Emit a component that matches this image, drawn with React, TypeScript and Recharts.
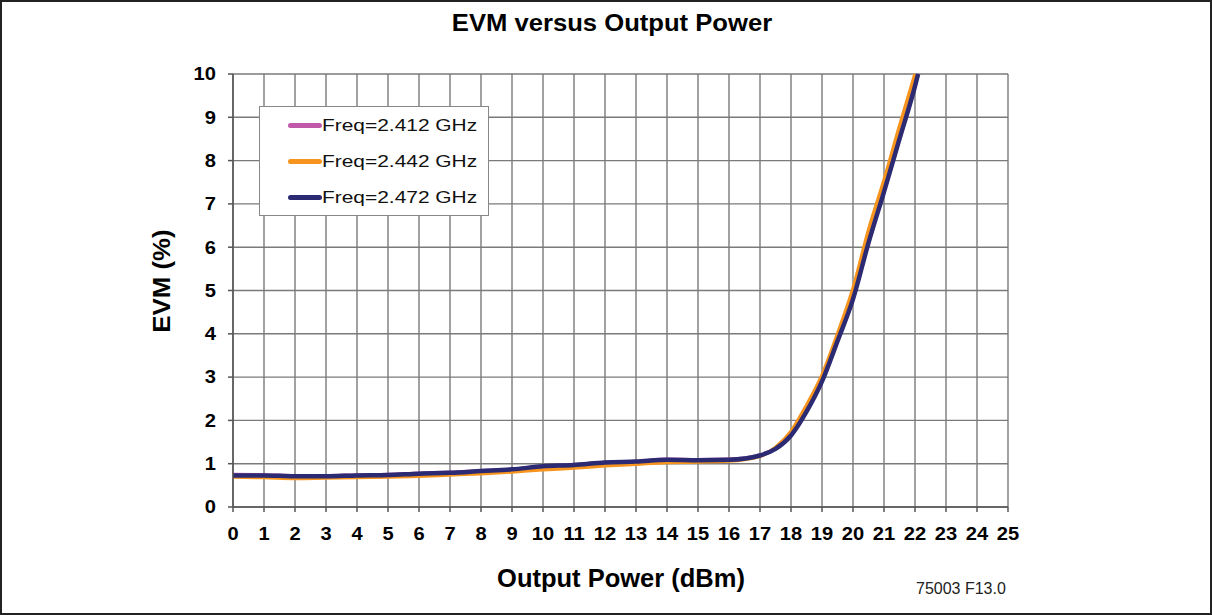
import { LineChart, Line, XAxis, YAxis, CartesianGrid, Legend } from 'recharts'

const powers = [0, 1, 2, 3, 4, 5, 6, 7, 8, 9, 10, 11, 12, 13, 14, 15, 16, 17, 17.5, 18, 18.5, 19, 19.5, 20, 20.5, 21, 21.5, 22, 22.1]

const evm2412 = [0.75, 0.74, 0.72, 0.72, 0.74, 0.75, 0.78, 0.8, 0.84, 0.87, 0.94, 0.98, 1.03, 1.05, 1.1, 1.09, 1.1, 1.2, 1.36, 1.66, 2.22, 2.92, 3.85, 4.82, 6.15, 7.3, 8.55, 9.75, 10]
const evm2442 = [0.69, 0.68, 0.66, 0.67, 0.68, 0.69, 0.71, 0.74, 0.77, 0.81, 0.86, 0.9, 0.95, 0.99, 1.03, 1.04, 1.06, 1.17, 1.38, 1.75, 2.35, 3.05, 4.0, 5.05, 6.4, 7.55, 8.8, 10, 10]
const evm2472 = [0.73, 0.73, 0.71, 0.71, 0.73, 0.74, 0.77, 0.79, 0.83, 0.87, 0.94, 0.97, 1.03, 1.05, 1.09, 1.08, 1.09, 1.19, 1.34, 1.65, 2.2, 2.9, 3.83, 4.8, 6.1, 7.28, 8.5, 9.72, 10]

const xTicks = Array.from({ length: 26 }, (_, i) => i)
const yTicks = [0, 1, 2, 3, 4, 5, 6, 7, 8, 9, 10]

const series = [
  { name: 'Freq=2.412 GHz', values: evm2412, color: '#c05aa8', width: 3.5 },
  { name: 'Freq=2.442 GHz', values: evm2442, color: '#f7941d', width: 3.5 },
  { name: 'Freq=2.472 GHz', values: evm2472, color: '#2b2a72', width: 4.5 },
]

// stop each curve once it reaches the top of the scale
const rows = (vals: number[]) => powers.map((p, i) => ({ x: p, y: vals[i] })).filter((r, i, a) => i === 0 || a[i - 1].y < 10)

const font = '"Liberation Sans", Arial, sans-serif'

function XTick(props: any) {
  const { x, y, payload } = props
  return (
    <g transform={`translate(${x},${y}) scale(1.15,1)`}>
      <text x={0} y={0} dy={28.5} textAnchor="middle" fill="#000" fontSize={17.5} fontWeight="bold" fontFamily={font}>{payload.value}</text>
    </g>
  )
}

function YTick(props: any) {
  const { x, y, payload } = props
  return (
    <g transform={`translate(${x},${y}) scale(1.15,1)`}>
      <text x={0} y={0} dy="0.36em" textAnchor="end" fill="#000" fontSize={17.5} fontWeight="bold" fontFamily={font}>{payload.value}</text>
    </g>
  )
}

function LegendBox() {
  return (
    <div style={{ width: 230, height: 110, border: '1px solid #888', background: '#fff', boxSizing: 'border-box' }}>
      {series.map(s => (
        <div key={s.name} style={{ display: 'flex', alignItems: 'center', height: 36.3, paddingLeft: 28 }}>
          <div style={{ width: 34, height: 5, background: s.color, borderRadius: 3, flex: 'none' }} />
          <span style={{ fontFamily: font, fontSize: 17, color: '#111', transform: 'scaleX(1.23)', transformOrigin: 'left center', whiteSpace: 'nowrap', lineHeight: 1 }}>{s.name}</span>
        </div>
      ))}
    </div>
  )
}

export default function App() {
  return (
    <div style={{ position: 'absolute', left: 0, top: 0, width: 1212, height: 615, background: '#fff', fontFamily: font, overflow: 'hidden' }}>
      <LineChart width={1212} height={615} margin={{ top: 74, right: 204, bottom: 0, left: 0 }}>
        <CartesianGrid stroke="#7a7a7a" strokeWidth={1.4} horizontal vertical />
        <XAxis
          type="number"
          dataKey="x"
          domain={[0, 25]}
          ticks={xTicks}
          interval={0}
          height={108}
          allowDuplicatedCategory={false}
          stroke="#555"
          strokeWidth={1.5}
          tickSize={5}
          tickMargin={0}
          tick={<XTick />}
        />
        <YAxis
          type="number"
          domain={[0, 10]}
          ticks={yTicks}
          interval={0}
          width={233}
          stroke="#555"
          strokeWidth={1.5}
          tickSize={5}
          tickMargin={12}
          tick={<YTick />}
        />
        <Legend
          layout="vertical"
          align="center"
          verticalAlign="middle"
          wrapperStyle={{ position: 'absolute', left: 259, top: 106, width: 230, height: 110 }}
          content={() => <LegendBox />}
        />
        {series.map(s => (
          <Line
            key={s.name}
            data={rows(s.values)}
            dataKey="y"
            name={s.name}
            type="monotone"
            stroke={s.color}
            strokeWidth={s.width}
            dot={false}
            activeDot={false}
            isAnimationActive={false}
          />
        ))}
      </LineChart>
      <div style={{ position: 'absolute', left: 0, top: 0, width: 1212, height: 615, border: '2px solid #222', boxSizing: 'border-box', pointerEvents: 'none' }} />
      <div style={{ position: 'absolute', left: 612, top: 24, transform: 'translate(-50%, -50%) scaleX(1.09)', fontSize: 23.5, lineHeight: 1, fontWeight: 'bold', whiteSpace: 'nowrap' }}>EVM versus Output Power</div>
      <div style={{ position: 'absolute', left: 621, top: 579, transform: 'translate(-50%, -50%)', fontSize: 25.5, lineHeight: 1, fontWeight: 'bold', whiteSpace: 'nowrap' }}>Output Power (dBm)</div>
      <div style={{ position: 'absolute', left: 163, top: 281, transform: 'translate(-50%, -50%) rotate(-90deg) scaleX(1.1)', fontSize: 23.5, lineHeight: 1, fontWeight: 'bold', whiteSpace: 'nowrap' }}>EVM (%)</div>
      <div style={{ position: 'absolute', left: 916, top: 588.5, transform: 'translateY(-50%)', fontSize: 16, lineHeight: 1, color: '#222', whiteSpace: 'nowrap' }}>75003 F13.0</div>
    </div>
  )
}
